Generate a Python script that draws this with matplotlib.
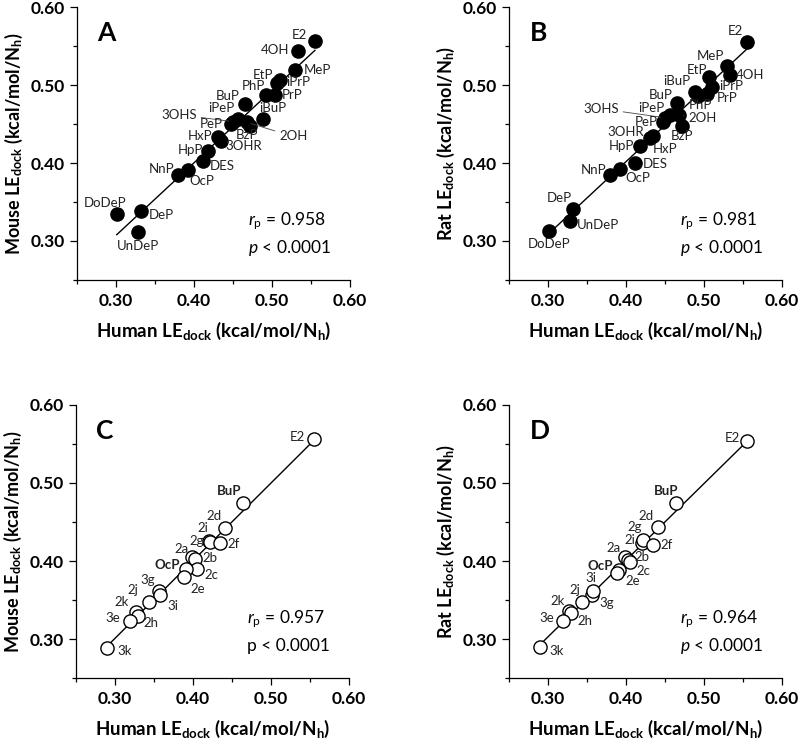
import numpy as np
from matplotlib import pyplot as plt
from matplotlib.ticker import MultipleLocator, FormatStrFormatter

plt.rcParams['font.family'] = ['Lato', 'DejaVu Sans']
plt.rcParams['mathtext.fontset'] = 'custom'
plt.rcParams['mathtext.it'] = 'Lato:italic'
plt.rcParams['mathtext.rm'] = 'Lato'

# panels A/B: parabens etc, human vs mouse / rat
names_ab = ['E2', '4OH', 'MeP', 'EtP', 'iPrP', 'PrP', 'PhP', 'iBuP', 'BuP', 'iPeP', '3OHS', 'PeP',
            '2OH', 'BzP', 'HxP', '3OHR', 'HpP', 'DES', 'OcP', 'NnP', 'DeP', 'UnDeP', 'DoDeP']
human_ab = [0.555, 0.533, 0.530, 0.506, 0.510, 0.504, 0.492, 0.488, 0.465, 0.457, 0.450, 0.448,
            0.468, 0.472, 0.431, 0.434, 0.418, 0.411, 0.392, 0.379, 0.332, 0.328, 0.301]
mouse_a = [0.557, 0.544, 0.519, 0.502, 0.506, 0.487, 0.487, 0.457, 0.476, 0.456, 0.453, 0.450,
           0.452, 0.447, 0.433, 0.428, 0.415, 0.402, 0.391, 0.385, 0.339, 0.311, 0.335]
rat_b = [0.555, 0.513, 0.525, 0.510, 0.497, 0.488, 0.486, 0.491, 0.477, 0.462, 0.458, 0.452,
         0.462, 0.448, 0.432, 0.434, 0.422, 0.400, 0.392, 0.385, 0.341, 0.326, 0.313]

# panels C/D: analogues
names_cd = ['E2', 'BuP', '2d', '2i', '2g', '2f', '2a', '2b', '2c', 'OcP', '2e', '3g', '3i',
            '2j', '2k', '2h', '3e', '3k']
human_cd = [0.555, 0.464, 0.441, 0.421, 0.422, 0.434, 0.399, 0.403, 0.405, 0.391, 0.389, 0.357,
            0.358, 0.343, 0.327, 0.329, 0.319, 0.290]
mouse_c = [0.557, 0.474, 0.442, 0.426, 0.424, 0.423, 0.405, 0.402, 0.390, 0.390, 0.380, 0.362,
           0.357, 0.347, 0.335, 0.330, 0.323, 0.288]
rat_d = [0.554, 0.474, 0.444, 0.423, 0.427, 0.420, 0.405, 0.401, 0.399, 0.389, 0.384, 0.357,
         0.362, 0.347, 0.336, 0.333, 0.323, 0.290]

stats = {'A': ('0.958', True), 'B': ('0.981', True), 'C': ('0.957', False), 'D': ('0.964', True)}

# label offsets in pixels (dx, dy, ha)
off_a = {'E2': (-8, 6, 'right'), '4OH': (-9, 1, 'right'), 'MeP': (8, 0, 'left'),
         'EtP': (-3, 8, 'right'), 'iPrP': (6, -2, 'left'), 'PrP': (7, 0, 'left'),
         'PhP': (-1, 9, 'right'), 'iBuP': (-3, 11, 'left'), 'BuP': (-5, 8, 'right'),
         'iPeP': (-4, 11, 'right'), '3OHS': (-36, 7, 'right'), 'PeP': (-9, 0, 'right'),
         '2OH': (32, -14, 'left'), 'BzP': (-3, -9, 'center'), 'HxP': (-6, 1, 'right'),
         '3OHR': (5, -5, 'left'), 'HpP': (-5, 1, 'right'), 'DES': (7, -5, 'left'),
         'OcP': (2, -11, 'left'), 'NnP': (-3, 6, 'right'), 'DeP': (8, -4, 'left'),
         'UnDeP': (0, -14, 'center'), 'DoDeP': (-12, 11, 'center')}
off_b = {'E2': (-4, 11, 'right'), '4OH': (6, 0, 'left'), 'MeP': (-3, 10, 'right'),
         'EtP': (-1, 7, 'right'), 'iPrP': (7, 1, 'left'), 'PrP': (10, -4, 'left'),
         'PhP': (3, -9, 'center'), 'iBuP': (-4, 11, 'right'), 'BuP': (-4, 8, 'right'),
         'iPeP': (-6, 7, 'right'), '3OHS': (-46, 9, 'right'), 'PeP': (-6, 0, 'right'),
         '2OH': (9, -3, 'left'), 'BzP': (0, -10, 'center'), 'HxP': (3, -11, 'left'),
         '3OHR': (-9, 4, 'right'), 'HpP': (-6, 0, 'right'), 'DES': (8, -1, 'left'),
         'OcP': (6, -9, 'left'), 'NnP': (-3, 5, 'right'), 'DeP': (-1, 11, 'right'),
         'UnDeP': (7, -4, 'left'), 'DoDeP': (0, -13, 'center')}
off_c = {'E2': (-9, 2, 'right'), 'BuP': (-2, 12, 'right'), '2d': (-3, 12, 'right'),
         '2i': (-1, 13, 'right'), '2g': (-6, 1, 'right'), '2f': (8, -1, 'left'),
         '2a': (-4, 8, 'right'), '2b': (7, 1, 'left'), '2c': (8, -6, 'left'),
         'OcP': (-6, 4, 'right'), '2e': (6, -12, 'left'), '3g': (-4, 11, 'right'),
         '3i': (7, -11, 'left'), '2j': (-10, 12, 'right'), '2k': (-7, 10, 'right'),
         '2h': (6, -7, 'left'), '3e': (-10, 3, 'right'), '3k': (10, -3, 'left')}
off_d = {'E2': (-7, 3, 'right'), 'BuP': (-10, 12, 'center'), '2d': (-4, 11, 'right'),
         '2i': (-7, 3, 'right'), '2g': (-1, 13, 'right'), '2f': (8, 0, 'left'),
         '2a': (-5, 9, 'right'), '2b': (6, 3, 'left'), '2c': (7, -9, 'left'),
         'OcP': (-6, 4, 'right'), '2e': (8, -8, 'left'), '3g': (7, -8, 'left'),
         '3i': (-2, 13, 'center'), '2j': (-1, 12, 'right'), '2k': (-4, 10, 'right'),
         '2h': (7, -8, 'left'), '3e': (-9, 3, 'right'), '3k': (9, -4, 'left')}

leaders = ['3OHS', '2OH']
bold_names = ['BuP', 'OcP']


def draw_panel(ax, x, y, names, offsets, filled, letter, species):
    x = np.array(x)
    y = np.array(y)
    # linear fit
    k, b = np.polyfit(x, y, 1)
    xs = np.array([x.min(), x.max()])
    ax.plot(xs, k * xs + b, color='black', lw=1, zorder=1)
    if filled:
        ax.plot(x, y, 'o', ms=9.5, mfc='black', mec='black', zorder=2)
    else:
        ax.plot(x, y, 'o', ms=9.5, mfc='white', mec='black', mew=1, zorder=2)

    for i, n in enumerate(names):
        dx, dy, ha = offsets[n]
        kw = {}
        if filled and n in leaders:
            kw['arrowprops'] = dict(arrowstyle='-', lw=0.6, color='#444444', shrinkA=1, shrinkB=3)
        weight = 'bold' if (not filled and n in bold_names) else 'normal'
        ax.annotate(n, (x[i], y[i]), xytext=(dx, dy), textcoords='offset pixels',
                    ha=ha, va='center', fontsize=9.5, color='#222222', weight=weight, **kw)

    r, p_it = stats[letter]
    ax.text(0.469, 0.325, r'$r_\mathregular{p}$ = ' + r, fontsize=12.5, va='center')
    ptxt = r'$p$ < 0.0001' if p_it else 'p < 0.0001'
    ax.text(0.469, 0.291, ptxt, fontsize=12.5, va='center')

    ax.text(0.075, 0.905, letter, transform=ax.transAxes, fontsize=19, weight='bold', va='center')

    ax.set_xlim(0.25, 0.60)
    ax.set_ylim(0.25, 0.60)
    for s in ['top', 'right']:
        ax.spines[s].set_visible(False)
    for s in ['left', 'bottom']:
        ax.spines[s].set_linewidth(0.9)
    ax.xaxis.set_major_locator(MultipleLocator(0.1))
    ax.yaxis.set_major_locator(MultipleLocator(0.1))
    ax.xaxis.set_minor_locator(MultipleLocator(0.05))
    ax.yaxis.set_minor_locator(MultipleLocator(0.05))
    ax.xaxis.set_major_formatter(FormatStrFormatter('%.2f'))
    ax.yaxis.set_major_formatter(FormatStrFormatter('%.2f'))
    ax.tick_params(which='major', direction='out', length=5, width=0.9, labelsize=12.5, pad=4)
    ax.tick_params(which='minor', direction='out', length=3, width=0.9)
    for t in ax.get_xticklabels() + ax.get_yticklabels():
        t.set_fontweight('bold')
    ax.set_xlabel(r'Human LE$_\mathregular{dock}$ (kcal/mol/N$_\mathregular{h}$)',
                  fontsize=13.5, weight='bold', labelpad=8)
    ax.set_ylabel(species + r' LE$_\mathregular{dock}$ (kcal/mol/N$_\mathregular{h}$)',
                  fontsize=13, weight='bold', labelpad=4)


fig = plt.figure(figsize=(8, 7.42), dpi=100)
w = 273 / 800
h = 273 / 742
axA = fig.add_axes([77 / 800, (742 - 280) / 742, w, h])
axB = fig.add_axes([509 / 800, (742 - 280) / 742, w, h])
axC = fig.add_axes([76 / 800, (742 - 678) / 742, w, h])
axD = fig.add_axes([509 / 800, (742 - 678) / 742, w, h])

draw_panel(axA, human_ab, mouse_a, names_ab, off_a, True, 'A', 'Mouse')
draw_panel(axB, human_ab, rat_b, names_ab, off_b, True, 'B', 'Rat')
draw_panel(axC, human_cd, mouse_c, names_cd, off_c, False, 'C', 'Mouse')
draw_panel(axD, human_cd, rat_d, names_cd, off_d, False, 'D', 'Rat')

fig.savefig('out.png', dpi=100)
